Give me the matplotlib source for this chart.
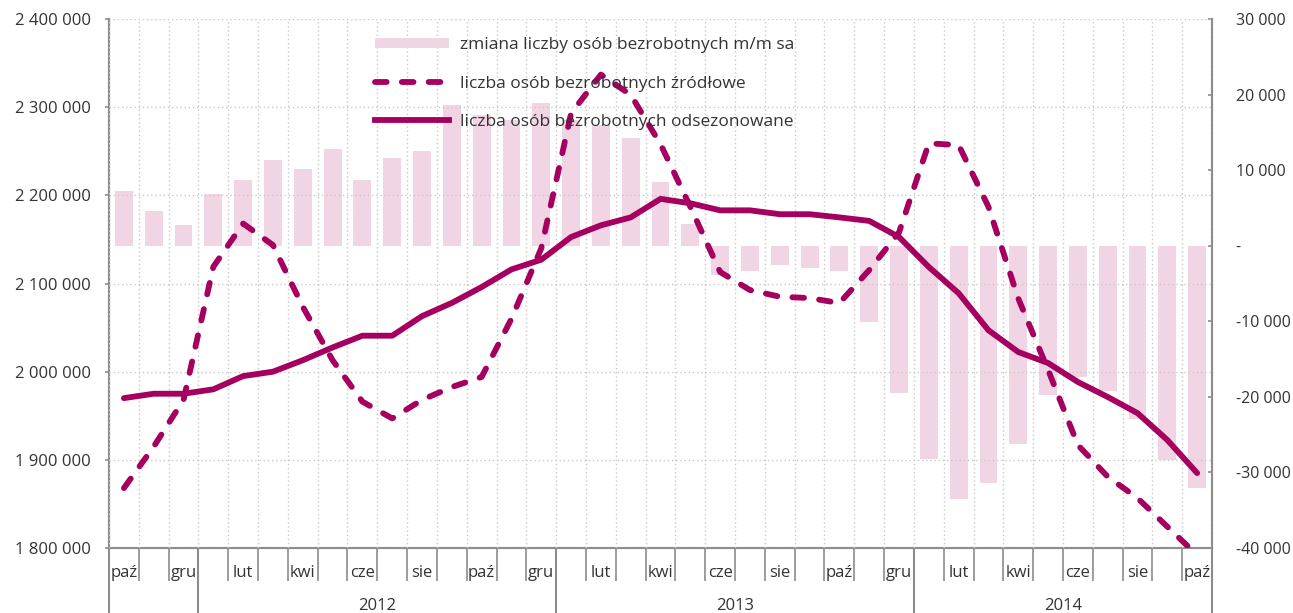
import numpy as np
import matplotlib.pyplot as plt
from matplotlib.patches import Patch
from matplotlib.lines import Line2D
from matplotlib.ticker import FuncFormatter, MultipleLocator

plt.rcParams['font.family'] = ['Open Sans', 'DejaVu Sans']

# months from paź 2011 to paź 2014
months = ['paź', 'lis', 'gru',
          'sty', 'lut', 'mar', 'kwi', 'maj', 'cze', 'lip', 'sie', 'wrz', 'paź', 'lis', 'gru',
          'sty', 'lut', 'mar', 'kwi', 'maj', 'cze', 'lip', 'sie', 'wrz', 'paź', 'lis', 'gru',
          'sty', 'lut', 'mar', 'kwi', 'maj', 'cze', 'lip', 'sie', 'wrz', 'paź']
years = ['2012', '2013', '2014']
year_first_month = [3, 15, 27]   # index of 'sty' for each year

# zmiana m/m sa (right axis)
change_sa = [7200, 4600, 2800, 6900, 8700, 11300, 10150, 12800, 8700, 11600, 12500, 18600,
             17300, 16600, 18900, 16600, 16000, 14250, 8430, 2900, -3900, -3300, -2500, -3000,
             -3300, -10050, -19450, -28270, -33560, -31440, -26240, -19760, -17420, -19190,
             -22970, -28360, -32100]

# liczba osób bezrobotnych - źródłowe (left axis)
raw = [1868000, 1915000, 1968000, 2119000, 2168000, 2143600, 2073700, 2013000, 1966000,
       1947000, 1968000, 1982600, 1994000, 2060000, 2140000, 2293000, 2337000, 2314000,
       2258000, 2187000, 2113000, 2092600, 2085000, 2083500, 2077800, 2115300, 2158000,
       2259000, 2257000, 2187000, 2083000, 2002000, 1916800, 1880900, 1856600, 1824200,
       1792000]

# liczba osób bezrobotnych - odsezonowane (left axis)
sa = [1970000, 1975000, 1975000, 1980000, 1995000, 2000000, 2013000, 2027500, 2040800,
      2040800, 2063000, 2078000, 2096000, 2116000, 2127000, 2152700, 2166000, 2175000,
      2196000, 2191000, 2183000, 2183000, 2178600, 2178600, 2175000, 2171000, 2152700,
      2118700, 2089000, 2047000, 2022300, 2009800, 1988300, 1971300, 1953000, 1922500,
      1885000]

line_color = '#a5005f'
bar_color = '#f1d5e4'
axis_color = '#8c8c8c'
text_color = '#333333'

x = np.arange(len(months))

fig = plt.figure(figsize=(12.93, 6.13), dpi=100)
ax = fig.add_axes([0.0843, 0.106, 0.8531, 0.863])
ax2 = ax.twinx()

# bars on the right axis, drawn below the lines
ax2.bar(x, change_sa, width=0.6, color=bar_color, zorder=1)
ax2.set_ylim(-40000, 30000)
ax2.yaxis.set_major_locator(MultipleLocator(10000))
ax2.yaxis.set_major_formatter(FuncFormatter(
    lambda v, p: '-' if v == 0 else f'{int(v):,}'.replace(',', ' ')))

ax.set_zorder(ax2.get_zorder() + 1)
ax.patch.set_visible(False)

ax.plot(x, raw, color=line_color, lw=4.2, dashes=(2.0, 2.6),
        dash_capstyle='round', solid_capstyle='round', zorder=3)
ax.plot(x, sa, color=line_color, lw=4.2, solid_capstyle='round', zorder=4)
ax.set_ylim(1800000, 2400000)
ax.set_xlim(-0.5, len(months) - 0.5)
ax.yaxis.set_major_locator(MultipleLocator(100000))
ax.yaxis.set_major_formatter(FuncFormatter(lambda v, p: f'{int(v):,}'.replace(',', ' ')))

# grid
ax.set_xticks(np.arange(-0.5, len(months)), minor=True)
ax.grid(True, axis='y', which='major', color='#c8c8c8', ls=(0, (1, 2)), lw=1)
ax.grid(True, axis='x', which='minor', color='#c8c8c8', ls=(0, (1, 2)), lw=1)
ax.set_axisbelow(False)

# x labels
ax.set_xticks(x[::2])
ax.set_xticklabels(months[::2])
ax.tick_params(axis='x', which='major', length=0, pad=12, labelsize=12, labelcolor=text_color)
ax.tick_params(axis='x', which='minor', length=24, width=1.2, color=axis_color)
ax.tick_params(axis='y', length=3, width=1.2, color=axis_color, pad=10,
               labelsize=12, labelcolor=text_color)
ax2.tick_params(axis='y', length=3, width=1.2, color=axis_color, direction='in', pad=17,
                labelsize=11.5, labelcolor=text_color)

for a in (ax, ax2):
    a.spines['top'].set_visible(False)
    for s in ('left', 'right', 'bottom'):
        a.spines[s].set_color(axis_color)
        a.spines[s].set_linewidth(1.5)

# year separators and labels
trans = ax.get_xaxis_transform()
for b in [-0.5] + [i - 0.5 for i in year_first_month] + [len(months) - 0.5]:
    ax.plot([b, b], [0, -0.125], transform=trans, color=axis_color, lw=1.5, clip_on=False)
bounds = year_first_month + [len(months)]
for k, yr in enumerate(years):
    mid = (bounds[k] + bounds[k + 1] - 1) / 2
    ax.text(mid, -0.11, yr, transform=trans, ha='center', va='center',
            fontsize=12, color=text_color)

handles = [Patch(facecolor=bar_color, edgecolor='none'),
           Line2D([], [], color=line_color, lw=4.2, dashes=(2.0, 2.6), dash_capstyle='round'),
           Line2D([], [], color=line_color, lw=4.2)]
labels = ['zmiana liczby osób bezrobotnych m/m sa',
          'liczba osób bezrobotnych źródłowe',
          'liczba osób bezrobotnych odsezonowane']
leg = ax.legend(handles, labels, loc='upper left', bbox_to_anchor=(0.241, 0.966),
                frameon=False, handlelength=4.3, handleheight=0.55, labelspacing=1.3,
                handletextpad=0.6, borderaxespad=0, borderpad=0, fontsize=12.5)
for t in leg.get_texts():
    t.set_color(text_color)

fig.savefig('out.png', dpi=100)
